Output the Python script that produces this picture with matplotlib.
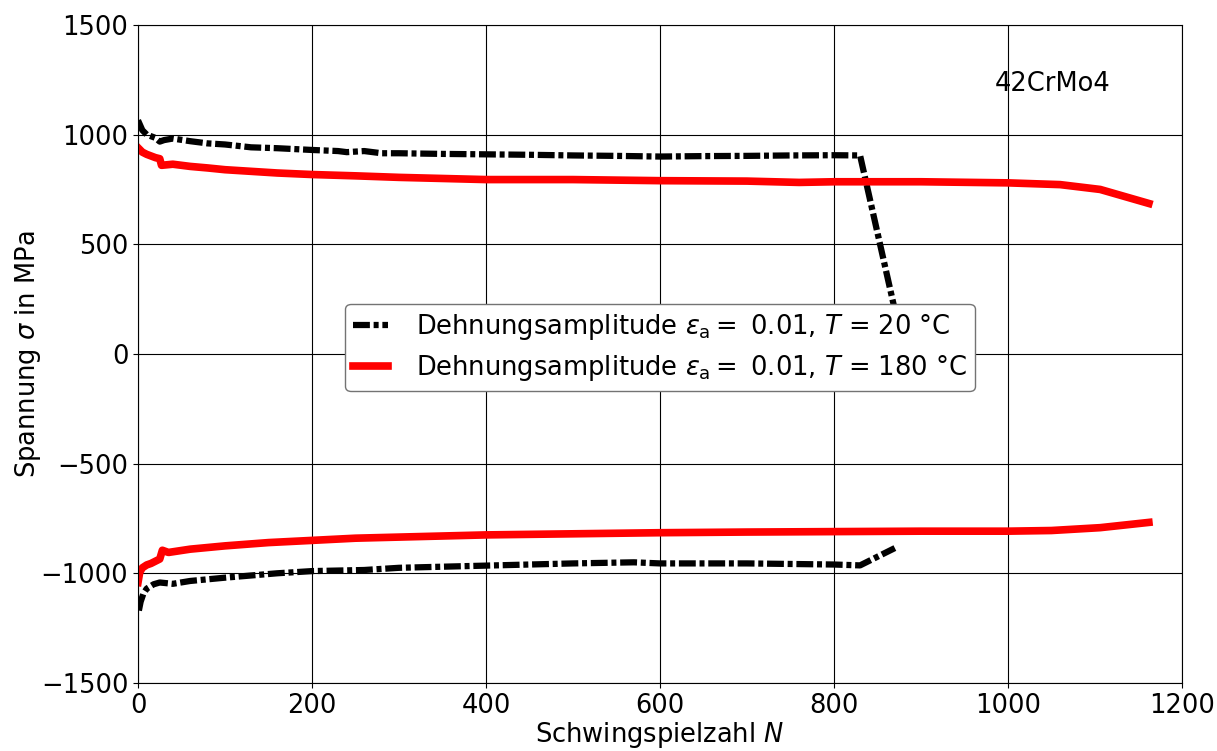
import numpy as np
import matplotlib.pyplot as plt

# max/min stress per cycle
n_20_max = [0, 5, 10, 20, 25, 30, 40, 60, 80, 100, 130, 160, 200, 230, 240, 260, 280, 300, 350, 400, 450, 500, 550, 600, 650, 700, 750, 800, 830, 870]
s_20_max = [1065, 1020, 1000, 985, 968, 975, 982, 970, 960, 955, 942, 938, 930, 925, 920, 925, 915, 915, 912, 910, 908, 905, 903, 900, 902, 903, 905, 906, 905, 200]
n_20_min = [1, 3, 6, 10, 18, 25, 40, 60, 100, 160, 200, 260, 300, 400, 500, 570, 600, 700, 800, 830, 870]
s_20_min = [-1170, -1130, -1095, -1070, -1050, -1042, -1048, -1035, -1020, -1000, -990, -985, -975, -965, -955, -950, -955, -955, -960, -964, -885]

n_180_max = [0, 5, 10, 20, 25, 27, 40, 60, 80, 100, 120, 160, 200, 250, 300, 350, 400, 500, 600, 700, 760, 800, 900, 1000, 1060, 1106, 1162]
s_180_max = [940, 920, 910, 895, 890, 860, 865, 855, 848, 840, 835, 825, 818, 812, 805, 800, 795, 795, 790, 788, 782, 785, 785, 780, 772, 750, 686]
n_180_min = [0, 2, 5, 10, 15, 25, 28, 35, 60, 100, 150, 200, 250, 300, 400, 500, 600, 700, 800, 900, 1000, 1050, 1106, 1162]
s_180_min = [-1042, -995, -975, -962, -955, -935, -895, -905, -890, -875, -860, -850, -840, -835, -825, -820, -815, -812, -810, -808, -808, -805, -792, -768]

fs = 18.5
dashdot = (0, (2.7, 0.6, 0.8, 0.6))

fig = plt.figure(figsize=(12.17, 7.51), dpi=100)
ax = fig.add_axes([0.1134, 0.0906, 0.8578, 0.8762])

ax.plot(n_20_max, s_20_max, color='black', linestyle=dashdot, linewidth=4.5,
        label=r'Dehnungsamplitude $\varepsilon_\mathrm{a} =$ 0.01, $T$ = 20 °C')
ax.plot(n_20_min, s_20_min, color='black', linestyle=dashdot, linewidth=4.5)
ax.plot(n_180_max, s_180_max, color='red', linestyle='-', linewidth=5.5,
        label=r'Dehnungsamplitude $\varepsilon_\mathrm{a} =$ 0.01, $T$ = 180 °C')
ax.plot(n_180_min, s_180_min, color='red', linestyle='-', linewidth=5.5)

ax.set_xlim(0, 1200)
ax.set_ylim(-1500, 1500)
ax.set_xticks(np.arange(0, 1201, 200))
ax.set_yticks(np.arange(-1500, 1501, 500))
ax.grid(True, color='black', linewidth=0.8)
ax.tick_params(labelsize=fs)
ax.set_xlabel(r'Schwingspielzahl $N$', fontsize=fs, labelpad=1)
ax.set_ylabel(r'Spannung $\sigma$ in MPa', fontsize=fs, labelpad=-2)
ax.text(985, 1230, '42CrMo4', fontsize=fs, va='center')

leg = ax.legend(loc='center', fontsize=fs, framealpha=1.0, edgecolor='0.45',
                handlelength=1.35, handletextpad=1.1, borderpad=0.3,
                labelspacing=0.45, bbox_to_anchor=(0.5, 0.51))

fig.savefig('out.png', dpi=100)
